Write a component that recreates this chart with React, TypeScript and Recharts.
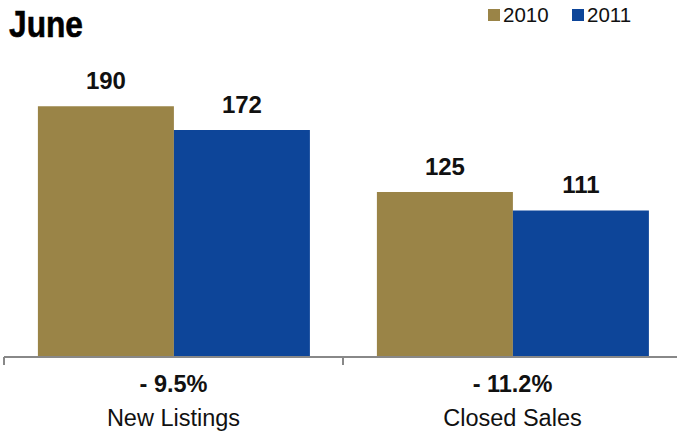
import React from "react";
import { BarChart, Bar, XAxis, YAxis, LabelList } from "recharts";

const categories = ["New Listings", "Closed Sales"];
const changes = ["- 9.5%", "- 11.2%"];
const values2010 = [190, 125];
const values2011 = [172, 111];
const seriesNames = ["2010", "2011"];
const title = "June";

const COLOR_2010 = "#9A8447";
const COLOR_2011 = "#0D4599";

const data = categories.map((c, i) => ({
  name: c,
  change: changes[i],
  v2010: values2010[i],
  v2011: values2011[i],
}));

const Tick = (props: any) => {
  const { x, y, payload, index } = props;
  const off = payload && payload.offset ? payload.offset : 0;
  return (
    <g>
      <line x1={x - off} x2={x - off} y1={y} y2={y + 8} stroke="#888" strokeWidth={2} />
      {index === categories.length - 1 && (
        <line x1={x + off} x2={x + off} y1={y} y2={y + 8} stroke="#888" strokeWidth={2} />
      )}
      <text x={x} y={y + 35} textAnchor="middle" fontSize={23.5} fontWeight="bold" fill="#111"
        fontFamily="'Liberation Sans', Arial, sans-serif">
        {changes[index]}
      </text>
      <text x={x} y={y + 69} textAnchor="middle" fontSize={23.5} fill="#111"
        fontFamily="'Liberation Sans', Arial, sans-serif">
        {payload.value}
      </text>
    </g>
  );
};

export default function App() {
  return (
    <div style={{ position: "absolute", left: 0, top: 0, width: 677, height: 435, overflow: "hidden", background: "#fff" }}>
      <BarChart
        width={682}
        height={435}
        data={data}
        margin={{ top: 93, right: 0, left: 4, bottom: 0 }}
        barCategoryGap="10%"
        barGap={0}
      >
        <YAxis hide domain={[0, 200]} />
        <XAxis
          dataKey="name"
          height={78}
          axisLine={{ stroke: "#888", strokeWidth: 2 }}
          tickLine={false}
          tickSize={0}
          tickMargin={0}
          interval={0}
          tick={<Tick />}
        />
        <Bar dataKey="v2010" name={seriesNames[0]} fill={COLOR_2010} isAnimationActive={false}>
          <LabelList dataKey="v2010" position="top" offset={17} fontSize={24} fontWeight="bold" fill="#111"
            fontFamily="'Liberation Sans', Arial, sans-serif" />
        </Bar>
        <Bar dataKey="v2011" name={seriesNames[1]} fill={COLOR_2011} isAnimationActive={false}>
          <LabelList dataKey="v2011" position="top" offset={17} fontSize={24} fontWeight="bold" fill="#111"
            fontFamily="'Liberation Sans', Arial, sans-serif" />
        </Bar>
      </BarChart>
      <svg width={677} height={50} style={{ position: "absolute", left: 0, top: 0 }}>
        <text x={9} y={37} fontSize={37} fontWeight="bold" fill="#000" stroke="#000" strokeWidth={0.6}
          textLength={74} lengthAdjust="spacingAndGlyphs"
          fontFamily="'Liberation Sans Narrow', 'Liberation Sans', Arial, sans-serif">
          {title}
        </text>
        <rect x={488} y={9} width={12} height={12} fill={COLOR_2010} />
        <text x={503} y={22} fontSize={20.5} fill="#111" fontFamily="'Liberation Sans', Arial, sans-serif">{seriesNames[0]}</text>
        <rect x={572} y={9} width={12} height={12} fill={COLOR_2011} />
        <text x={587} y={22} fontSize={20.5} fill="#111" fontFamily="'Liberation Sans', Arial, sans-serif">{seriesNames[1]}</text>
      </svg>
    </div>
  );
}
